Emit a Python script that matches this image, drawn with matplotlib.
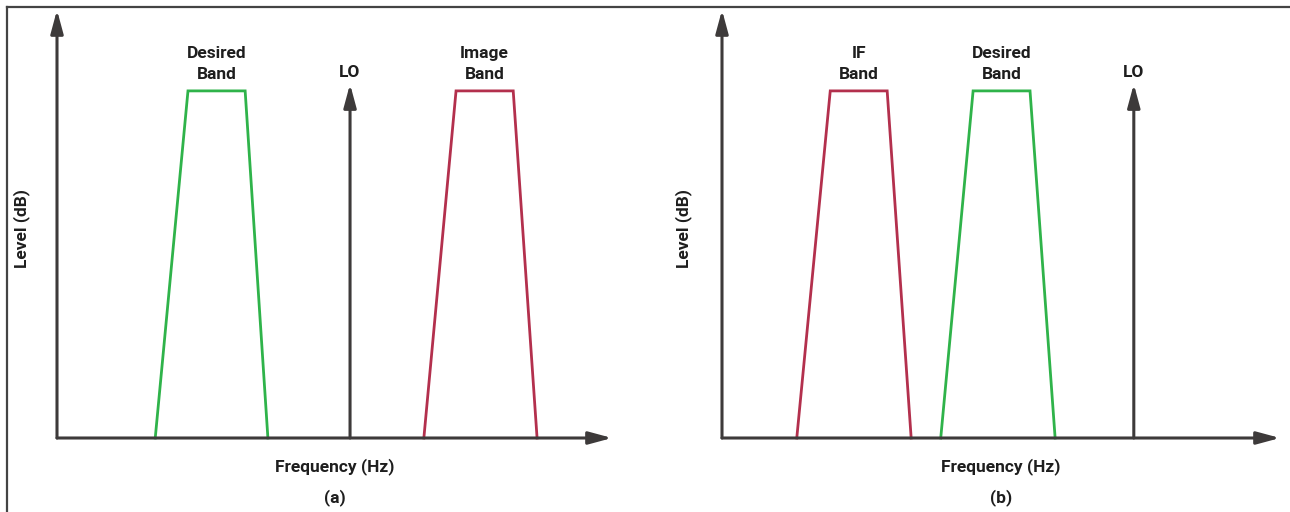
import matplotlib.pyplot as plt
from matplotlib.lines import Line2D

plt.rcParams['font.family'] = ['Roboto', 'DejaVu Sans']

# frequency axis runs 0..100, level axis 0..100 (arbitrary units)
# panel (a)
a_desired_f = [17.7, 23.6, 33.9, 38.0]
a_image_f = [66.1, 71.9, 82.2, 86.5]
a_lo = 52.8
# panel (b)
b_if_f = [13.4, 19.4, 29.6, 33.9]
b_desired_f = [39.2, 45.0, 55.2, 59.7]
b_lo = 73.8

band_level = [0, 81.1, 81.1, 0]
lo_level = 82.7

GREEN = '#2fb34a'
RED = '#b3304d'
AXC = '#3d3a3a'
TXT = '#1e1e1e'
FS = 12.5

W, H = 1290, 512
fig = plt.figure(figsize=(W / 100, H / 100), dpi=100)

# left and top frame of the figure
fig.add_artist(Line2D([6.5 / W, 6.5 / W], [0, 1 - 6.5 / H], color='#444444', lw=1.6))
fig.add_artist(Line2D([6.5 / W, 1], [1 - 6.5 / H, 1 - 6.5 / H], color='#444444', lw=1.6))


def arrow(ax, x0, y0, x1, y1):
    ax.annotate('', xy=(x1, y1), xytext=(x0, y0), annotation_clip=False,
                arrowprops=dict(arrowstyle='-|>,head_length=1.0,head_width=0.27',
                                color=AXC, lw=2.2, shrinkA=0, shrinkB=0,
                                mutation_scale=14))


def label(ax, x, y, s):
    ax.text(x, y, s, ha='center', va='baseline', fontsize=FS,
            fontweight='bold', color=TXT)


def panel(x0px, x1px, bands, lo, ylabel_x, letter):
    ax = fig.add_axes([x0px / W, (H - 438) / H, (x1px - x0px) / W, 428 / H])
    ax.set_xlim(0, 100)
    ax.set_ylim(0, 100)
    ax.axis('off')
    arrow(ax, 0, 0, 0, 100)
    arrow(ax, 0, 0, 100, 0)
    arrow(ax, lo, 0, lo, lo_level)
    label(ax, lo, 84.3, 'LO')
    for f, col, (top, bottom) in bands:
        ax.plot(f, band_level, color=col, lw=2.0, solid_joinstyle='miter',
                clip_on=False)
        label(ax, (f[1] + f[2]) / 2, 88.9, top)
        label(ax, (f[1] + f[2]) / 2, 83.9, bottom)
    label(ax, 50, -7.7, 'Frequency (Hz)')
    label(ax, 50, -15.0, letter)
    fig.text(ylabel_x / W, 1 - 228 / H, 'Level (dB)', rotation=90,
             ha='center', va='center', fontsize=FS, fontweight='bold',
             color=TXT)
    return ax


panel(57, 612, [(a_desired_f, GREEN, ('Desired', 'Band')),
                (a_image_f, RED, ('Image', 'Band'))], a_lo, 22, '(a)')
panel(722, 1280, [(b_if_f, RED, ('IF', 'Band')),
                  (b_desired_f, GREEN, ('Desired', 'Band'))], b_lo, 684, '(b)')

fig.savefig('out.png', dpi=100, facecolor='white')
